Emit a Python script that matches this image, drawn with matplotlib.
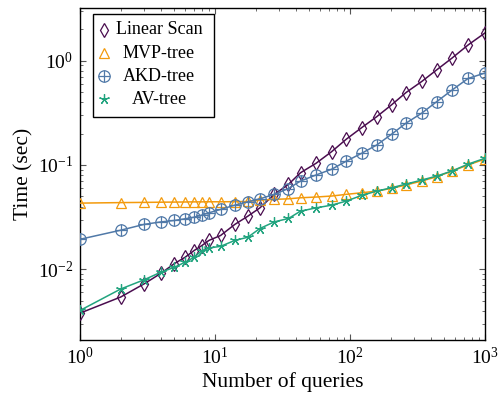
import matplotlib
matplotlib.use("Agg")
import matplotlib.pyplot as plt
from matplotlib.patches import Rectangle
from matplotlib.ticker import LogLocator, NullFormatter

queries = [1, 2, 3, 4, 5, 6, 7, 8, 9, 11, 14, 17.5, 21.5, 27.5, 35, 43, 56, 73, 94,
           122, 158, 203, 260, 340, 440, 570, 750, 1000]
linear_scan = [0.0038, 0.00542, 0.00728, 0.0092, 0.01134, 0.01304, 0.01513, 0.0169,
               0.0189, 0.0211, 0.0269, 0.0323, 0.0388, 0.0523, 0.0652, 0.0843, 0.1038,
               0.134, 0.177, 0.228, 0.291, 0.377, 0.495, 0.632, 0.819, 1.06, 1.416, 1.846]
mvp_tree = [0.0431, 0.0436, 0.0438, 0.044, 0.0441, 0.0442, 0.0443, 0.0443, 0.0444,
            0.0444, 0.0445, 0.0447, 0.0461, 0.0468, 0.0474, 0.0485, 0.0493, 0.0504,
            0.0523, 0.0542, 0.0562, 0.0597, 0.0643, 0.0702, 0.0772, 0.0876, 0.1, 0.114]
akd_tree = [0.0194, 0.0237, 0.027, 0.0285, 0.0294, 0.0305, 0.0316, 0.0331, 0.0348,
            0.0375, 0.0412, 0.0444, 0.0474, 0.0523, 0.0595, 0.0702, 0.0802, 0.0909,
            0.109, 0.1295, 0.1557, 0.197, 0.252, 0.314, 0.406, 0.523, 0.676, 0.762]
av_tree = [0.00403, 0.00647, 0.00796, 0.00942, 0.01045, 0.01168, 0.01304, 0.0151,
           0.016, 0.0166, 0.0189, 0.0203, 0.0246, 0.0285, 0.0307, 0.0361, 0.0388,
           0.0412, 0.0451, 0.0511, 0.0562, 0.0605, 0.0656, 0.0717, 0.0784, 0.0876,
           0.102, 0.116]

series_labels = ["Linear Scan", "MVP-tree", "AKD-tree", "AV-tree"]
x_label = "Number of queries"
y_label = "Time (sec)"

C_PURPLE = "#4a0d4f"
C_ORANGE = "#f39a0c"
C_BLUE = "#5079a8"
C_GREEN = "#22a47f"

plt.rcParams["font.family"] = ["Liberation Serif", "DejaVu Serif"]
plt.rcParams["mathtext.fontset"] = "custom"
plt.rcParams["mathtext.rm"] = "Liberation Serif"
plt.rcParams["mathtext.it"] = "Liberation Serif:italic"

fig = plt.figure(figsize=(4.99, 3.95), dpi=100)
ax = fig.add_axes([80 / 499, 1 - 340 / 395, 405 / 499, 332 / 395])

lw = 1.1
ax.plot(queries, linear_scan, color=C_PURPLE, lw=lw, marker="d", ms=7.5,
        mfc="none", mec=C_PURPLE, mew=0.9, zorder=3)
ax.plot(queries, mvp_tree, color=C_ORANGE, lw=lw, marker="^", ms=7.5,
        mfc="none", mec=C_ORANGE, mew=0.9, zorder=3)
ax.plot(queries, akd_tree, color=C_BLUE, lw=lw, marker="o", ms=8.2,
        mfc="none", mec=C_BLUE, mew=0.9, zorder=3)
ax.plot(queries, akd_tree, color=C_BLUE, lw=0, marker="+", ms=8.2,
        mec=C_BLUE, mew=0.9, zorder=3)
ax.plot(queries, av_tree, color=C_GREEN, lw=lw, marker=(5, 2, 0), ms=7.5,
        mec=C_GREEN, mew=0.9, zorder=3)

ax.set_xscale("log")
ax.set_yscale("log")
ax.set_xlim(1, 1000)
ax.set_ylim(0.0021, 3.2)

ax.xaxis.set_major_locator(LogLocator(base=10))
ax.yaxis.set_major_locator(LogLocator(base=10))
ax.xaxis.set_minor_locator(LogLocator(base=10, subs=range(2, 10)))
ax.yaxis.set_minor_locator(LogLocator(base=10, subs=range(2, 10)))
ax.xaxis.set_minor_formatter(NullFormatter())
ax.yaxis.set_minor_formatter(NullFormatter())

ax.tick_params(which="both", direction="in", top=True, right=True,
               color="#555555", labelsize=14)
ax.tick_params(which="major", length=4.5, width=0.8, pad=5)
ax.tick_params(which="minor", length=2.5, width=0.6)
for s in ax.spines.values():
    s.set_linewidth(1.0)
    s.set_color("black")

ax.set_xlabel(x_label, fontsize=15.5, labelpad=3)
ax.set_ylabel(y_label, fontsize=15.5, labelpad=3)

# legend (marker only, centred text), drawn in axes fraction coordinates
tr = ax.transAxes
ax.add_patch(Rectangle((0.033, 0.671), 0.298, 0.310, transform=tr,
                       fill=True, facecolor="white", edgecolor="black",
                       lw=1.0, zorder=5))
rows_y = [0.934, 0.864, 0.794, 0.725]
mx = 0.059
tx = 0.195
ax.plot([mx], [rows_y[0]], transform=tr, marker="d", ms=7.5, mfc="none",
        mec=C_PURPLE, mew=0.9, ls="none", zorder=6, clip_on=False)
ax.plot([mx], [rows_y[1]], transform=tr, marker="^", ms=7.5, mfc="none",
        mec=C_ORANGE, mew=0.9, ls="none", zorder=6, clip_on=False)
ax.plot([mx], [rows_y[2]], transform=tr, marker="o", ms=8.2, mfc="none",
        mec=C_BLUE, mew=0.9, ls="none", zorder=6, clip_on=False)
ax.plot([mx], [rows_y[2]], transform=tr, marker="+", ms=8.2,
        mec=C_BLUE, mew=0.9, ls="none", zorder=6, clip_on=False)
ax.plot([mx], [rows_y[3]], transform=tr, marker=(5, 2, 0), ms=7.5,
        mec=C_GREEN, mew=0.9, ls="none", zorder=6, clip_on=False)
for lab, yy in zip(series_labels, rows_y):
    ax.text(tx, yy, lab, transform=tr, ha="center", va="center",
            fontsize=13, zorder=6)

fig.savefig("out.png", dpi=100)
